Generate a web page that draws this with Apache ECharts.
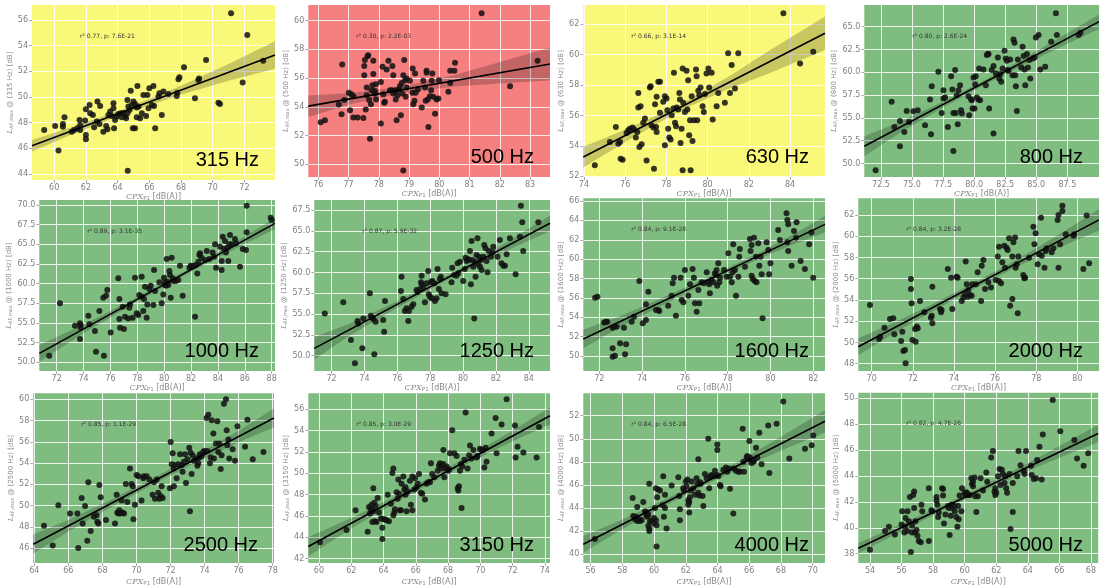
<!DOCTYPE html>
<html>
<head>
<meta charset="utf-8">
<script src="https://cdn.jsdelivr.net/npm/echarts@6/dist/echarts.min.js"></script>
<style>
  html, body { margin: 0; padding: 0; background: #ffffff; }
  #chart { width: 1099px; height: 588px; }
</style>
</head>
<body>
<div id="chart"></div>
<script>
// One-third-octave band panels: L_AF,max in the band versus CPX_P1 level.
const freqLabels = ['315 Hz', '500 Hz', '630 Hz', '800 Hz', '1000 Hz', '1250 Hz',
                    '1600 Hz', '2000 Hz', '2500 Hz', '3150 Hz', '4000 Hz', '5000 Hz'];
const statLabels = ['r\u00b2 0.77, p: 7.6E-21', 'r\u00b2 0.30, p: 2.2E-03', 'r\u00b2 0.66, p: 3.1E-14',
                    'r\u00b2 0.80, p: 2.6E-24', 'r\u00b2 0.89, p: 3.1E-35', 'r\u00b2 0.87, p: 5.9E-32',
                    'r\u00b2 0.84, p: 9.1E-28', 'r\u00b2 0.84, p: 3.2E-28', 'r\u00b2 0.85, p: 1.1E-29',
                    'r\u00b2 0.85, p: 3.0E-29', 'r\u00b2 0.84, p: 6.5E-28', 'r\u00b2 0.82, p: 4.7E-26'];
const fitClass = ['fair', 'poor', 'fair', 'good', 'good', 'good',
                  'good', 'good', 'good', 'good', 'good', 'good'];

const xRanges = [[58.6, 73.93], [75.67, 83.66], [73.97, 85.7], [71.16, 90.05],
                 [70.71, 88.25], [70.95, 85.29], [71.25, 82.55], [69.35, 81.05],
                 [63.94, 78.08], [59.34, 74.32], [55.54, 70.78], [53.26, 68.46]];
const yRanges = [[43.53, 57.17], [49.12, 61.09], [51.96, 63.27], [48.52, 67.38],
                 [48.9, 70.64], [48.16, 68.7], [48.45, 66.28], [47.31, 63.57],
                 [44.61, 60.56], [41.59, 57.48], [39.23, 53.94], [37.28, 50.43]];
const xTicks = [[60, 62, 64, 66, 68, 70, 72], [76, 77, 78, 79, 80, 81, 82, 83],
                [74, 76, 78, 80, 82, 84], [72.5, 75, 77.5, 80, 82.5, 85, 87.5],
                [72, 74, 76, 78, 80, 82, 84, 86, 88], [72, 74, 76, 78, 80, 82, 84],
                [72, 74, 76, 78, 80, 82], [70, 72, 74, 76, 78, 80],
                [64, 66, 68, 70, 72, 74, 76, 78], [60, 62, 64, 66, 68, 70, 72, 74],
                [56, 58, 60, 62, 64, 66, 68, 70], [54, 56, 58, 60, 62, 64, 66, 68]];
const yTicks = [[44, 46, 48, 50, 52, 54, 56], [50, 52, 54, 56, 58, 60], [52, 54, 56, 58, 60, 62],
                [50, 52.5, 55, 57.5, 60, 62.5, 65], [50, 52.5, 55, 57.5, 60, 62.5, 65, 67.5, 70],
                [50, 52.5, 55, 57.5, 60, 62.5, 65, 67.5], [50, 52, 54, 56, 58, 60, 62, 64, 66],
                [48, 50, 52, 54, 56, 58, 60, 62], [46, 48, 50, 52, 54, 56, 58, 60],
                [42, 44, 46, 48, 50, 52, 54, 56], [40, 42, 44, 46, 48, 50, 52], [38, 40, 42, 44, 46, 48, 50]];
const xDecimals = [0, 0, 0, 1, 0, 0, 0, 0, 0, 0, 0, 0];
const yDecimals = [0, 0, 0, 1, 1, 1, 0, 0, 0, 0, 0, 0];

// Measured pass-by points [CPX_P1, L_AF,max]
const points315 = [[59.37,47.43],[60.06,47.74],[60.55,47.69],[60.55,47.9],[60.65,48.42],[60.27,45.82],[61.11,47.3],[61.26,47.43],[61.47,47.56],[61.6,48.2],[61.64,47.8],[61.64,47.43],[61.95,48.16],[62.0,49.04],[62.0,47.04],[62.0,46.7],[62.23,49.38],[62.27,48.73],[62.44,48.6],[62.52,47.64],[62.69,48.08],[62.73,49.64],[62.9,49.3],[62.86,47.9],[63.1,47.3],[63.28,47.74],[63.36,47.48],[63.42,48.6],[63.53,48.86],[63.63,48.52],[63.74,49.51],[63.74,49.12],[63.78,47.56],[63.84,48.2],[63.95,48.47],[64.05,48.68],[64.2,48.73],[64.26,48.42],[64.37,48.73],[64.47,48.47],[64.62,48.73],[64.62,49.77],[64.68,49.25],[64.75,48.99],[64.54,48.34],[64.64,44.26],[64.83,50.49],[64.9,49.38],[64.96,47.56],[65.0,49.64],[65.1,49.45],[65.1,47.56],[65.21,48.42],[65.21,49.19],[65.25,50.86],[65.32,49.25],[65.42,48.34],[65.53,48.73],[65.63,50.16],[65.8,48.52],[65.88,50.16],[65.95,49.12],[66.0,50.68],[66.16,49.38],[66.26,50.86],[66.3,49.3],[66.37,47.56],[66.58,50.03],[66.64,50.29],[66.79,48.6],[66.89,50.42],[67.2,50.23],[67.73,50.08],[67.77,50.34],[67.84,51.38],[67.9,51.53],[68.19,52.31],[68.88,49.9],[69.1,51.32],[69.14,51.45],[69.58,52.88],[70.36,49.56],[70.46,49.45],[71.16,56.52],[71.89,51.12],[72.18,54.83],[73.19,52.83]];
const points500 = [[76.08,52.93],[76.22,53.07],[76.68,54.16],[76.77,53.49],[76.79,56.95],[76.86,54.47],[77.01,54.98],[77.05,53.77],[77.1,54.88],[77.16,54.74],[77.16,53.26],[77.3,53.26],[77.49,53.23],[77.52,56.2],[77.52,56.84],[77.54,57.26],[77.57,53.81],[77.6,55.35],[77.6,54.81],[77.63,57.53],[77.65,57.6],[77.68,54.47],[77.71,51.79],[77.74,54.19],[77.76,55.16],[77.79,55.51],[77.82,57.21],[77.82,56.28],[77.87,55.12],[77.87,54.93],[77.9,55.58],[77.91,54.51],[78.07,55.74],[78.07,52.84],[78.12,56.79],[78.15,54.88],[78.18,54.28],[78.2,54.35],[78.26,56.6],[78.32,57.21],[78.37,55.16],[78.43,55.16],[78.45,56.84],[78.48,54.93],[78.48,56.2],[78.51,55.12],[78.56,55.16],[78.56,54.51],[78.59,53.07],[78.62,54.81],[78.67,55.21],[78.7,55.44],[78.73,53.42],[78.76,55.67],[78.78,54.93],[78.81,56.2],[78.81,49.58],[78.84,57.26],[78.87,55.86],[78.89,54.7],[78.92,55.35],[78.92,55.98],[79.03,55.81],[79.11,54.98],[79.12,56.67],[79.14,54.19],[79.18,54.42],[79.2,56.33],[79.22,54.98],[79.29,55.21],[79.42,53.95],[79.47,55.81],[79.53,55.35],[79.55,54.42],[79.58,56.51],[79.58,56.37],[79.62,54.51],[79.64,52.6],[79.69,54.74],[79.73,55.16],[79.75,55.81],[79.77,56.33],[79.8,54.7],[79.86,53.53],[79.91,54.51],[79.97,54.58],[79.99,55.86],[80.3,55.05],[80.36,56.51],[80.36,55.67],[80.5,56.51],[80.52,57.07],[81.4,60.51],[82.34,55.44],[83.25,57.21]];
const points630 = [[74.53,52.73],[75.26,54.26],[75.55,55.25],[75.67,54.15],[75.75,54.26],[75.78,53.16],[75.88,53.1],[76.07,54.86],[76.15,55.03],[76.23,55.14],[76.36,55.21],[76.43,55.08],[76.52,54.55],[76.59,54.92],[76.64,57.49],[76.64,56.53],[76.69,53.93],[76.75,56.62],[76.8,54.11],[76.88,55.52],[76.96,55.8],[77.04,53.05],[77.2,57.85],[77.24,57.93],[77.28,55.36],[77.37,55.21],[77.4,52.51],[77.45,56.75],[77.5,55.25],[77.53,57.23],[77.53,54.92],[77.61,58.22],[77.69,58.22],[77.69,56.18],[77.85,56.9],[77.93,57.27],[77.93,54.04],[78.01,57.12],[78.05,56.35],[78.09,55.14],[78.14,54.55],[78.21,54.42],[78.26,56.02],[78.34,56.46],[78.37,58.81],[78.42,55.52],[78.47,55.3],[78.5,56.53],[78.58,56.4],[78.63,57.49],[78.66,57.05],[78.69,54.2],[78.74,55.14],[78.79,59.1],[78.79,52.4],[78.82,56.84],[78.9,56.24],[78.98,58.95],[79.02,56.4],[79.06,58.33],[79.11,54.7],[79.15,55.69],[79.18,52.4],[79.23,57.27],[79.27,54.33],[79.34,55.69],[79.44,59.03],[79.47,58.59],[79.5,55.69],[79.55,57.63],[79.6,57.34],[79.66,57.85],[79.76,56.62],[79.82,56.24],[79.87,57.41],[79.95,58.77],[80.04,59.1],[80.08,57.85],[80.2,58.81],[80.25,55.74],[80.44,56.62],[80.52,57.49],[80.84,56.84],[81.0,60.09],[81.09,57.49],[81.17,59.32],[81.33,57.78],[81.49,60.09],[83.68,62.73],[84.49,59.43],[85.13,60.2]];
const points800 = [[72.07,49.25],[73.36,56.76],[73.58,54.01],[74.03,54.67],[74.03,51.89],[74.38,53.46],[74.57,55.77],[74.76,54.56],[75.11,55.73],[75.46,55.84],[76.05,54.19],[76.45,57.01],[76.53,53.21],[76.59,58.48],[77.12,60.05],[77.39,55.55],[77.53,58.04],[77.53,57.12],[77.66,57.23],[77.88,54.01],[78.15,59.58],[78.25,58.11],[78.33,55.55],[78.33,51.37],[78.47,60.24],[78.52,55.55],[78.6,57.49],[78.68,54.3],[78.74,58.04],[78.87,58.59],[78.95,55.84],[79.01,55.48],[79.54,57.38],[79.6,55.29],[79.76,57.01],[79.81,56.94],[79.87,56.03],[79.95,59.43],[80.03,56.03],[80.08,58.7],[80.13,59.58],[80.22,57.23],[80.35,57.01],[80.4,60.42],[80.48,56.94],[80.75,60.31],[80.94,58.59],[81.02,61.89],[81.1,62.0],[81.16,62.0],[81.21,56.03],[81.42,60.24],[81.56,60.68],[81.56,53.28],[81.75,59.87],[81.91,61.63],[82.02,59.32],[82.1,59.8],[82.18,58.96],[82.29,60.42],[82.45,62.36],[82.55,61.52],[82.63,61.26],[82.71,60.24],[82.77,60.16],[82.9,61.41],[83.09,59.69],[83.17,63.61],[83.25,63.24],[83.31,59.69],[83.36,58.48],[83.44,55.77],[83.52,61.41],[83.79,60.53],[83.9,62.8],[83.98,61.78],[84.06,60.31],[84.12,58.59],[84.25,62.0],[84.33,60.53],[84.44,61.34],[84.52,59.32],[84.7,61.52],[84.87,61.63],[84.97,63.83],[85.19,64.08],[85.32,60.31],[85.72,60.6],[86.2,63.35],[86.58,66.47],[86.66,64.08],[88.41,64.08],[88.55,64.34]];
const points1000 = [[71.45,50.85],[72.25,57.5],[73.36,54.66],[73.74,54.96],[73.79,54.75],[73.79,54.41],[73.74,52.97],[74.36,55.93],[74.43,54.83],[74.85,53.98],[74.93,51.36],[75.18,56.53],[75.47,58.22],[75.67,58.47],[75.77,59.19],[75.52,50.85],[76.02,53.81],[76.59,60.68],[76.67,58.05],[76.67,55.51],[76.72,54.41],[76.91,57.08],[77.01,54.24],[77.09,55.81],[77.33,55.59],[77.41,56.95],[77.46,57.37],[77.66,55.68],[77.83,60.76],[77.96,56.23],[78.08,56.02],[78.15,58.56],[78.33,60.89],[78.33,58.35],[78.45,56.53],[78.5,58.05],[78.58,59.62],[78.7,55.68],[78.75,57.37],[78.9,59.32],[79.0,59.75],[79.2,57.29],[79.25,61.74],[79.32,59.07],[79.64,60.17],[79.82,57.5],[79.94,58.64],[79.99,60.76],[80.06,60.17],[80.06,59.83],[80.14,59.75],[80.19,63.14],[80.24,60.25],[80.31,59.83],[80.39,61.61],[80.44,61.1],[80.49,58.22],[80.56,63.31],[80.64,60.68],[80.68,60.34],[80.88,60.34],[81.06,60.47],[81.18,62.29],[81.38,58.47],[81.88,62.03],[81.98,62.29],[82.05,62.16],[82.22,62.29],[82.3,55.81],[82.37,62.37],[82.47,61.31],[82.55,62.8],[82.62,63.64],[82.67,63.86],[82.79,63.31],[83.04,63.01],[83.17,64.15],[83.36,63.14],[83.61,63.98],[83.71,63.43],[83.79,65.0],[83.86,62.03],[84.16,64.7],[84.28,62.88],[84.28,61.74],[84.36,65.97],[84.46,64.41],[84.53,65.42],[84.6,63.98],[84.7,64.58],[84.78,62.88],[84.85,65.0],[84.9,66.19],[85.03,65.0],[85.27,65.68],[85.35,65.13],[85.65,62.16],[85.85,64.41],[86.09,64.28],[86.14,69.92],[86.14,66.53],[87.93,68.39],[88.0,68.09]];
const points1250 = [[71.59,55.08],[72.71,56.41],[73.18,51.88],[73.42,49.08],[73.58,54.16],[73.62,53.88],[73.87,50.88],[73.93,54.48],[74.33,57.49],[74.39,54.8],[74.47,54.56],[74.54,54.4],[74.6,50.16],[74.68,54.08],[75.14,54.28],[75.2,52.88],[75.25,56.57],[76.22,57.77],[76.26,59.49],[76.36,56.81],[76.46,55.37],[76.56,55.69],[76.67,54.16],[76.71,55.37],[76.87,55.89],[76.97,56.17],[77.17,57.89],[77.23,57.69],[77.38,58.01],[77.44,58.81],[77.48,59.61],[77.48,58.57],[77.58,58.29],[77.68,56.41],[77.78,58.69],[77.88,60.17],[77.92,57.37],[77.98,57.09],[78.04,58.81],[78.09,56.89],[78.13,58.97],[78.25,58.69],[78.29,56.57],[78.39,56.89],[78.45,60.41],[78.53,58.01],[78.59,59.21],[78.65,59.49],[78.69,57.49],[78.94,57.37],[79.3,58.81],[79.34,60.57],[79.46,59.69],[79.6,59.61],[79.67,61.09],[79.71,59.89],[79.81,61.29],[80.01,58.97],[80.11,60.41],[80.15,61.77],[80.21,61.37],[80.28,61.61],[80.36,61.49],[80.42,62.57],[80.48,58.57],[80.52,63.78],[80.56,61.49],[80.62,60.69],[80.68,54.48],[80.72,61.29],[80.76,59.49],[80.82,62.09],[80.88,64.1],[80.92,60.97],[80.97,61.89],[81.03,60.69],[81.09,61.49],[81.13,60.29],[81.23,61.89],[81.29,63.29],[81.37,62.89],[81.43,61.37],[81.49,60.01],[81.57,62.57],[81.7,61.89],[81.78,62.41],[81.84,63.09],[82.1,61.89],[82.24,63.89],[82.34,61.09],[82.45,60.81],[82.55,60.81],[82.65,62.17],[82.85,64.1],[83.2,59.77],[83.46,64.3],[83.52,68.02],[83.6,66.02],[83.66,62.57],[84.58,66.02]];
const points1600 = [[71.8,56.02],[71.91,56.12],[72.22,53.47],[72.31,53.54],[72.37,53.54],[72.62,49.93],[72.62,50.79],[72.62,52.92],[72.69,53.03],[72.73,50.03],[72.81,53.03],[72.97,51.31],[73.15,52.92],[73.2,50.17],[73.25,51.2],[73.51,53.54],[73.62,54.06],[73.87,57.74],[74.03,53.37],[74.18,53.71],[74.18,55.33],[74.29,56.64],[74.65,54.75],[74.76,54.75],[74.8,54.64],[75.22,55.19],[75.38,56.23],[75.43,57.5],[75.49,58.09],[75.58,54.16],[75.8,58.09],[75.85,55.78],[75.93,55.54],[76.0,58.88],[76.16,56.23],[76.24,57.4],[76.36,58.98],[76.42,58.09],[76.47,55.44],[76.55,54.58],[76.63,56.81],[76.67,55.44],[76.78,57.6],[76.89,57.5],[77.02,58.64],[77.09,57.6],[77.14,57.4],[77.17,56.47],[77.25,57.84],[77.33,57.6],[77.4,58.53],[77.45,58.36],[77.48,58.88],[77.51,57.26],[77.56,59.57],[77.61,57.6],[77.64,58.09],[77.83,58.88],[77.95,58.19],[78.03,60.6],[78.11,58.19],[78.19,57.6],[78.23,58.64],[78.26,61.53],[78.34,58.88],[78.39,56.23],[78.5,58.19],[78.54,60.25],[78.57,61.04],[78.81,59.22],[79.04,62.08],[79.07,60.84],[79.12,61.46],[79.12,58.29],[79.17,57.95],[79.23,62.21],[79.27,57.74],[79.32,60.25],[79.35,57.6],[79.43,61.63],[79.48,59.32],[79.54,60.25],[79.59,58.43],[79.63,53.89],[79.82,61.73],[79.9,60.94],[79.94,58.43],[80.0,59.57],[80.36,63.01],[80.44,61.97],[80.75,64.73],[80.79,64.04],[80.83,63.59],[80.79,61.73],[80.83,60.84],[80.99,59.32],[81.1,62.9],[81.19,62.21],[81.22,63.8],[81.41,59.81],[81.61,58.98],[81.81,61.53],[81.92,62.76],[82.0,58.09]];
const points2000 = [[69.92,53.53],[70.36,50.32],[70.41,50.54],[70.62,51.39],[70.89,52.21],[71.05,52.27],[71.1,50.76],[71.43,50.14],[71.49,51.01],[71.54,49.19],[71.62,49.29],[71.65,48.03],[71.91,55.97],[71.91,55.03],[71.94,53.68],[71.98,50.23],[72.11,51.27],[72.14,50.07],[72.19,51.49],[72.24,51.33],[72.35,53.9],[72.56,52.83],[72.88,52.33],[72.92,52.52],[72.95,55.25],[72.95,51.8],[73.32,53.15],[73.37,52.83],[73.4,53.05],[73.7,56.92],[73.86,56.1],[73.92,53.15],[74.13,56.19],[74.18,56.1],[74.38,53.9],[74.46,54.22],[74.54,54.53],[74.57,57.61],[74.62,55.47],[74.67,54.31],[74.7,54.94],[74.78,54.47],[74.86,54.4],[74.89,55.47],[75.06,55.47],[75.15,56.6],[75.32,53.9],[75.35,57.23],[75.43,57.76],[75.51,55.03],[75.67,55.66],[75.8,55.16],[76.03,55.88],[76.13,58.08],[76.19,59.02],[76.19,55.78],[76.29,55.57],[76.35,57.54],[76.45,59.11],[76.48,57.04],[76.56,58.92],[76.61,58.7],[76.68,59.8],[76.73,53.46],[76.84,54.09],[76.84,58.08],[76.89,59.43],[76.97,59.87],[77.0,57.04],[77.05,57.35],[77.1,52.74],[77.13,58.08],[77.37,56.35],[77.42,56.04],[77.46,56.1],[77.65,57.98],[77.86,60.9],[77.91,59.24],[77.97,60.27],[78.07,57.35],[78.14,58.3],[78.23,61.75],[78.27,58.17],[78.4,57.04],[78.46,58.61],[78.51,58.86],[78.75,58.48],[78.83,58.86],[79.04,61.53],[79.08,62.0],[79.08,57.04],[79.16,59.24],[79.27,62.38],[79.27,62.88],[79.43,60.18],[79.81,60.05],[79.85,60.18],[80.29,56.92],[80.45,61.94],[80.57,57.45]];
const points2500 = [[64.57,48.11],[65.08,46.25],[65.41,50.03],[66.1,49.26],[66.53,49.26],[66.58,46.01],[66.78,50.71],[66.84,48.33],[66.98,49.97],[67.11,46.69],[67.17,52.2],[67.31,47.62],[67.5,48.95],[67.66,49.1],[67.7,48.48],[67.76,48.33],[67.82,51.95],[67.9,50.8],[68.21,48.64],[68.74,48.33],[68.84,51.02],[68.88,49.35],[68.93,49.26],[68.99,49.57],[69.07,49.26],[69.13,50.49],[69.19,49.35],[69.27,49.26],[69.38,52.04],[69.46,50.34],[69.62,53.5],[69.72,52.04],[69.78,51.83],[69.82,48.73],[69.91,50.09],[70.01,52.88],[70.11,52.76],[70.3,50.49],[70.4,52.57],[70.44,52.76],[70.6,52.76],[70.76,52.45],[70.95,51.02],[71.03,52.2],[71.09,50.65],[71.19,52.45],[71.28,51.21],[71.34,50.65],[71.42,50.9],[71.48,51.83],[71.54,50.71],[71.97,51.64],[72.01,55.98],[72.07,53.9],[72.13,54.92],[72.17,53.5],[72.2,51.83],[72.26,53.81],[72.36,52.57],[72.46,53.9],[72.56,54.83],[72.66,53.81],[72.71,53.19],[72.79,54.12],[72.85,54.83],[72.91,52.14],[72.99,54.37],[73.1,55.45],[73.14,49.47],[73.18,54.98],[73.24,52.97],[73.3,54.74],[73.38,54.21],[73.54,54.43],[73.58,53.75],[73.63,53.99],[73.69,54.52],[73.73,54.83],[73.83,54.67],[73.93,55.05],[73.98,55.14],[74.12,58.24],[74.16,55.14],[74.22,58.54],[74.32,53.99],[74.36,54.52],[74.42,58.02],[74.52,56.78],[74.55,54.43],[74.67,55.85],[74.75,57.93],[74.81,55.05],[74.87,55.85],[74.95,53.44],[75.0,54.74],[75.14,59.57],[75.26,60.0],[75.3,57.09],[75.34,55.67],[75.4,56.22],[75.45,54.43],[75.65,55.3],[75.79,54.21],[75.93,57.46],[76.38,55.54],[76.52,58.08],[76.83,54.37],[77.46,55.05]];
const points3150 = [[60.06,43.53],[61.71,44.67],[62.27,46.52],[63.02,44.52],[63.1,46.83],[63.16,46.22],[63.22,46.62],[63.26,47.05],[63.31,45.44],[63.37,46.43],[63.43,47.23],[63.47,45.5],[63.57,45.44],[63.37,48.59],[63.51,46.93],[63.64,47.67],[63.72,46.31],[63.84,45.75],[63.93,43.84],[63.93,44.89],[63.99,45.69],[64.09,45.69],[64.19,45.6],[64.34,45.5],[64.26,47.98],[64.46,47.14],[64.55,50.01],[64.61,50.44],[64.61,46.06],[64.67,46.31],[64.71,46.62],[64.81,48.22],[64.88,47.6],[64.92,49.4],[64.96,48.07],[65.02,46.52],[65.08,46.52],[65.12,49.0],[65.23,49.7],[65.29,48.47],[65.37,48.69],[65.37,47.98],[65.43,46.43],[65.5,48.28],[65.64,49.3],[65.7,47.05],[65.79,49.7],[65.79,46.52],[65.91,48.47],[65.95,49.52],[66.05,48.69],[66.12,49.0],[66.2,49.92],[66.32,48.16],[66.4,48.07],[66.57,47.54],[66.67,49.0],[66.78,49.15],[66.88,49.15],[66.94,50.94],[67.02,49.92],[67.15,49.61],[67.36,50.23],[67.44,50.69],[67.5,50.94],[67.56,50.75],[67.6,50.44],[67.71,52.17],[67.71,50.85],[67.77,49.61],[67.85,50.44],[67.91,50.63],[68.02,50.23],[68.06,50.38],[68.12,51.86],[68.26,54.02],[68.39,51.86],[68.53,51.62],[68.6,48.59],[68.64,48.38],[68.68,48.78],[68.74,50.23],[68.8,50.85],[68.84,46.74],[68.88,50.63],[69.01,51.25],[69.09,55.69],[69.21,50.44],[69.3,51.68],[69.36,52.6],[69.46,51.37],[69.57,52.17],[69.77,51.46],[69.83,51.62],[69.98,52.29],[70.08,52.17],[70.19,52.17],[70.25,50.54],[70.33,52.39],[70.39,51.06],[70.7,53.72],[70.95,55.17],[71.01,51.86],[71.32,54.55],[71.63,56.93],[72.15,54.46],[72.19,51.46],[72.31,52.48],[72.67,51.93],[73.49,51.46],[73.64,54.33]];
const points4000 = [[56.27,41.31],[58.65,44.86],[58.69,43.31],[58.8,43.03],[58.86,43.23],[58.94,42.86],[59.0,43.09],[59.11,42.86],[59.22,42.94],[58.94,44.09],[59.32,44.51],[59.43,43.71],[59.49,43.6],[59.53,43.37],[59.57,43.23],[59.64,43.43],[59.64,42.46],[59.7,42.23],[59.7,42.0],[59.74,42.8],[59.7,46.09],[59.85,42.94],[60.0,43.14],[60.0,42.66],[60.06,44.0],[60.12,45.71],[60.12,42.94],[60.16,42.51],[60.16,40.66],[60.2,44.94],[60.27,45.6],[60.37,45.51],[60.54,44.23],[60.58,46.74],[60.62,43.23],[60.69,45.14],[60.69,44.0],[60.79,42.23],[61.11,45.94],[61.53,46.66],[61.59,45.03],[61.63,43.89],[61.63,42.94],[61.84,45.71],[61.89,45.51],[62.01,46.29],[62.05,45.89],[62.1,46.46],[62.16,44.29],[62.16,44.66],[62.22,44.51],[62.22,43.6],[62.26,44.94],[62.31,45.51],[62.37,46.29],[62.47,45.71],[62.58,45.14],[62.68,46.57],[62.73,46.09],[62.79,45.31],[62.79,48.23],[62.85,45.09],[62.9,46.23],[62.94,46.09],[63.06,45.03],[63.11,44.17],[63.21,46.94],[63.32,46.57],[63.42,50.0],[63.48,45.71],[63.53,46.74],[63.63,46.86],[63.74,46.74],[63.84,47.23],[63.95,46.86],[63.99,49.51],[63.99,49.03],[64.05,46.74],[64.16,46.0],[64.2,45.89],[64.37,47.31],[64.53,47.51],[64.62,47.14],[64.74,47.43],[64.79,45.66],[65.0,43.51],[65.04,47.43],[65.17,47.23],[65.31,47.14],[65.42,47.14],[65.59,50.86],[65.63,48.0],[65.67,47.14],[65.84,48.37],[65.88,48.51],[65.94,48.23],[66.01,49.8],[66.05,48.37],[66.15,47.89],[66.26,48.0],[66.3,48.09],[66.43,49.23],[66.51,48.37],[66.64,50.51],[66.78,47.8],[67.2,51.14],[67.27,47.03],[67.73,51.31],[68.15,53.23],[68.53,48.29],[69.52,49.14],[69.94,49.43],[70.04,50.29]];
const points5000 = [[54.0,38.3],[54.95,39.75],[55.2,40.08],[55.58,39.49],[56.0,40.25],[56.04,41.27],[56.17,39.64],[56.21,40.08],[56.25,40.76],[56.38,39.75],[56.38,41.27],[56.46,40.51],[56.53,42.37],[56.59,38.12],[56.67,40.15],[56.67,39.64],[56.74,42.54],[56.8,41.53],[56.8,42.8],[56.88,40.51],[56.84,39.64],[56.95,39.82],[57.01,39.39],[57.09,38.98],[57.22,38.88],[57.26,41.78],[57.31,41.27],[57.73,43.05],[57.73,38.98],[57.89,41.35],[57.94,41.27],[58.21,42.11],[58.21,42.37],[58.27,41.78],[58.32,40.84],[58.36,41.17],[58.57,43.05],[58.63,42.99],[58.63,42.49],[58.69,40.33],[58.78,41.02],[58.95,41.68],[58.99,41.53],[59.05,39.44],[59.12,40.92],[59.16,41.78],[59.2,41.53],[59.33,41.68],[59.37,41.27],[59.47,40.84],[59.54,40.08],[59.58,41.68],[59.62,40.66],[59.68,42.49],[59.79,41.27],[59.83,43.05],[60.0,42.7],[60.04,42.54],[60.11,42.75],[60.17,42.62],[60.25,42.54],[60.32,42.54],[60.42,43.82],[60.46,43.38],[60.53,43.56],[60.53,43.21],[60.63,43.89],[60.67,42.44],[60.74,41.22],[60.84,42.44],[61.01,43.82],[61.16,42.87],[61.37,44.27],[61.43,43.56],[61.68,45.42],[61.79,45.93],[61.89,42.8],[61.94,42.54],[61.94,43.05],[62.0,42.7],[62.11,43.97],[62.21,44.53],[62.27,43.31],[62.36,44.48],[62.42,44.15],[62.53,43.46],[62.57,43.97],[62.63,43.05],[62.69,42.7],[62.84,44.15],[62.91,39.9],[63.05,41.22],[63.05,43.46],[63.33,43.97],[63.41,45.93],[63.54,44.83],[63.75,44.4],[63.79,44.15],[63.89,45.93],[64.21,44.78],[64.25,44.07],[64.38,43.77],[64.53,43.82],[64.59,45.24],[64.74,46.26],[64.88,43.72],[64.95,47.2],[65.58,49.87],[66.06,47.46],[66.95,46.77],[67.12,45.34],[67.54,44.78],[67.83,45.75]];

// Least-squares fit end points [CPX_P1, L_AF,max]
const fit315 = [[58.6, 46.2], [73.93, 53.27]];
const fit500 = [[75.67, 54.05], [83.66, 56.98]];
const fit630 = [[73.97, 53.27], [85.7, 61.41]];
const fit800 = [[71.16, 51.89], [90.05, 65.55]];
const fit1000 = [[70.71, 51.14], [88.25, 67.67]];
const fit1250 = [[70.95, 50.88], [85.29, 65.9]];
const fit1600 = [[71.25, 51.75], [82.55, 63.59]];
const fit2000 = [[69.35, 49.6], [81.05, 61.53]];
const fit2500 = [[63.94, 46.38], [78.08, 58.24]];
const fit3150 = [[59.34, 43.13], [74.32, 55.38]];
const fit4000 = [[55.54, 40.86], [70.78, 51.51]];
const fit5000 = [[53.26, 38.42], [68.46, 47.28]];

// 95 % confidence band of the fit [CPX_P1, lower, upper]
const band315 = [[58.6,45.75,46.65],[61,47.01,47.61],[64.5,48.74,49.1],[68,50.18,50.88],[71,51.27,52.57],[73.93,52.2,54.34]];
const band500 = [[75.67,53.3,54.8],[77,54.14,54.94],[78.8,54.98,55.42],[80.5,55.42,56.22],[82,55.62,57.12],[83.66,55.83,58.13]];
const band630 = [[73.97,52.59,53.95],[76,54.26,55.06],[78.6,56.27,56.67],[81,57.74,58.54],[83,58.78,60.28],[85.7,60.31,62.51]];
const band800 = [[71.16,50.79,52.99],[74,53.34,54.54],[77,55.76,56.46],[80.5,58.39,58.89],[84,60.82,61.52],[87,62.79,63.89],[90.05,64.75,66.35]];
const band1000 = [[70.71,50.09,52.19],[74,53.69,54.79],[77,56.72,57.42],[80,59.64,60.14],[83,62.42,63.02],[86,65.04,66.04],[88.25,66.96,68.36]];
const band1250 = [[70.95,49.53,52.23],[73,52.28,53.78],[76,55.77,56.57],[79,59.03,59.59],[82,62.05,62.85],[85.29,64.95,66.85]];
const band1600 = [[71.25,50.8,52.7],[73,53.03,54.13],[75.5,55.85,56.55],[77.5,58.02,58.58],[79.5,60.07,60.71],[81,61.46,62.46],[82.55,62.74,64.44]];
const band2000 = [[69.35,48.8,50.4],[71,50.78,51.78],[73,52.99,53.65],[75,55.08,55.64],[77,57.07,57.73],[79,58.84,60.04],[81.05,60.53,62.53]];
const band2500 = [[63.94,45.48,47.28],[66,47.56,48.66],[68.5,49.86,50.56],[71,52.0,52.6],[73.5,54.05,54.75],[76,55.95,57.05],[78.08,57.36,59.12]];
const band3150 = [[59.34,42.23,44.03],[62,44.81,45.81],[64.5,47.02,47.68],[67,49.12,49.68],[69.5,51.11,51.77],[72,52.99,53.99],[74.32,54.58,56.18]];
const band4000 = [[55.54,40.14,41.58],[58,42.16,43.0],[60.5,44.06,44.6],[63,45.83,46.33],[65.5,47.49,48.15],[68,48.97,50.17],[70.78,50.54,52.48]];
const band5000 = [[53.26,38.02,38.82],[56,39.74,40.3],[59,41.57,41.97],[61,42.74,43.14],[64,44.39,44.99],[66.5,45.65,46.65],[68.46,46.6,47.96]];

const pointSets = [points315, points500, points630, points800, points1000, points1250,
                   points1600, points2000, points2500, points3150, points4000, points5000];
const fitSets = [fit315, fit500, fit630, fit800, fit1000, fit1250,
                 fit1600, fit2000, fit2500, fit3150, fit4000, fit5000];
const bandSets = [band315, band500, band630, band800, band1000, band1250,
                  band1600, band2000, band2500, band3150, band4000, band5000];

// Panel frames in pixels: [left, top, right, bottom]
const frames = [
  [32, 5, 275, 180], [308.3, 5, 550, 177], [583.3, 5, 825, 177], [864.3, 5, 1099, 177],
  [39.3, 200, 275, 371], [314.3, 200, 550, 371], [583.3, 198.3, 825, 371], [858.3, 198.3, 1099, 371],
  [33.3, 393.3, 274, 565], [308.3, 393.3, 550, 565], [583.3, 393.3, 825, 565], [858.3, 392.7, 1099, 565]
];
const classColor = { good: '#7fbc7f', fair: '#f9f878', poor: '#f67f7f' };
const xNameGap = [9, 9, 9, 9, 12, 12, 12, 12, 14, 14, 14, 14];

const tickText = '#808080';
const nameText = '#8a8a8a';

// Confidence band drawn as one polygon: upper edge left to right, lower edge back
function renderBand(params, api) {
  if (params.dataIndexInside !== 0) return null;
  const n = params.dataInsideLength;
  const upper = [];
  const lower = [];
  for (let k = 0; k < n; k++) {
    const x = api.value(0, k);
    upper.push(api.coord([x, api.value(2, k)]));
    lower.unshift(api.coord([x, api.value(1, k)]));
  }
  return {
    type: 'polygon',
    shape: { points: upper.concat(lower) },
    style: { fill: 'rgba(0,0,0,0.2)' }
  };
}

const grids = [], xAxes = [], yAxes = [], series = [], graphics = [];

frames.forEach((f, i) => {
  const [l, t, r, b] = f;
  grids.push({
    left: l, top: t, width: r - l, height: b - t,
    show: true, backgroundColor: classColor[fitClass[i]], borderWidth: 0
  });
  xAxes.push({
    type: 'value', gridIndex: i, min: xRanges[i][0], max: xRanges[i][1],
    axisLine: { show: false },
    axisTick: { show: true, length: 3, lineStyle: { color: '#aaa' }, customValues: xTicks[i] },
    axisLabel: {
      customValues: xTicks[i], fontSize: 8, color: tickText, margin: 4,
      fontFamily: 'DejaVu Sans',
      formatter: v => Number(v).toFixed(xDecimals[i])
    },
    splitLine: { show: true, lineStyle: { color: 'rgba(255,255,255,0.85)', width: 1 } },
    name: '{i|CPX}{s|P1} [dB(A)]', nameLocation: 'middle', nameGap: xNameGap[i],
    nameTextStyle: {
      color: nameText, fontSize: 8, fontFamily: 'DejaVu Sans',
      rich: {
        i: { fontStyle: 'italic', fontSize: 8, color: nameText, fontFamily: 'DejaVu Serif' },
        s: { fontSize: 5.5, color: nameText, verticalAlign: 'bottom', padding: [4, 0, 0, 0] }
      }
    }
  });
  yAxes.push({
    type: 'value', gridIndex: i, min: yRanges[i][0], max: yRanges[i][1],
    axisLine: { show: false },
    axisTick: { show: true, length: 3, lineStyle: { color: '#aaa' }, customValues: yTicks[i] },
    axisLabel: {
      customValues: yTicks[i], fontSize: 8, color: tickText, margin: 4,
      fontFamily: 'DejaVu Sans',
      formatter: v => Number(v).toFixed(yDecimals[i])
    },
    splitLine: { show: true, lineStyle: { color: 'rgba(255,255,255,0.85)', width: 1 } },
    name: '{i|L}{s|AF,max} @ (' + freqLabels[i] + ') [dB]', nameLocation: 'middle',
    nameGap: yDecimals[i] ? 20 : 15,
    nameTextStyle: {
      color: nameText, fontSize: 7, fontFamily: 'DejaVu Sans',
      rich: {
        i: { fontStyle: 'italic', fontSize: 7, color: nameText, fontFamily: 'DejaVu Serif' },
        s: { fontSize: 5, color: nameText, verticalAlign: 'bottom', padding: [3, 0, 0, 0] }
      }
    }
  });
  series.push({
    type: 'custom', xAxisIndex: i, yAxisIndex: i, data: bandSets[i],
    renderItem: renderBand, silent: true, clip: true, z: 2
  });
  series.push({
    type: 'scatter', xAxisIndex: i, yAxisIndex: i, data: pointSets[i],
    symbolSize: 6, itemStyle: { color: '#121212', opacity: 0.85 }, silent: true, z: 3
  });
  series.push({
    type: 'line', xAxisIndex: i, yAxisIndex: i, data: fitSets[i],
    showSymbol: false, lineStyle: { color: '#000', width: 1.6 }, silent: true, z: 4
  });
  graphics.push({
    type: 'text', x: l + 48, y: t + 31, z: 10,
    style: { text: statLabels[i], fontSize: 6, fontFamily: 'DejaVu Sans', fill: '#333',
             align: 'left', verticalAlign: 'middle' }
  });
  graphics.push({
    type: 'text', x: r - 16, y: b - 10, z: 10,
    style: { text: freqLabels[i], fontSize: 20, fontFamily: 'Liberation Sans', fill: '#000',
             align: 'right', verticalAlign: 'bottom' }
  });
});

const chart = echarts.init(document.getElementById('chart'), null, { renderer: 'canvas' });
chart.setOption({
  animation: false,
  backgroundColor: '#ffffff',
  grid: grids,
  xAxis: xAxes,
  yAxis: yAxes,
  series: series,
  graphic: graphics
});
</script>
</body>
</html>
